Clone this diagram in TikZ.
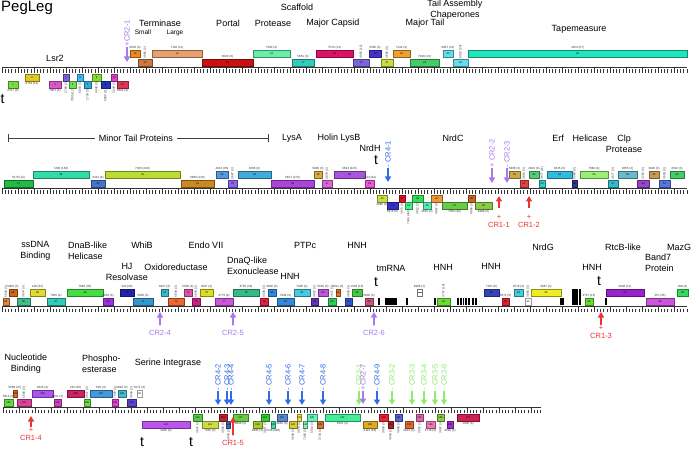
\documentclass[tikz,border=0pt]{standalone}
\usepackage{fontspec}
\setmainfont{Liberation Sans}
\usetikzlibrary{arrows.meta}

\definecolor{crred}{HTML}{EE3333}
\definecolor{crpurple}{HTML}{A779EE}
\definecolor{crgreen}{HTML}{8FEA6E}
\definecolor{crblue}{HTML}{2F6BEA}

% genes of one row: #1 = y of the ruler, #2 = x1/x2/offset/colour/number/label/h or v
\newcommand{\genes}[2]{%
  \foreach \xa/\xb/\dy/\hc/\gn/\lab/\ori in {#2} {
    \definecolor{gc}{HTML}{\hc}
    \pgfmathsetmacro\gw{\xb-\xa}
    \node[gene, fill=gc, draw=gc!60!black, minimum width=\gw pt] (g\gn) at ({(\xa+\xb)/2},{#1+(\dy)+3.5}) {\gn};
    \ifdim\dy pt<0pt
      \if\ori h\node[glab, anchor=south] (l\gn) at (g\gn.north) {\lab};
      \else\node[glab, rotate=90, anchor=west] (l\gn) at (g\gn.north) {\lab};\fi
    \else
      \if\ori h\node[glab, anchor=north] (l\gn) at (g\gn.south) {\lab};
      \else\node[glab, rotate=90, anchor=east] (l\gn) at (g\gn.south) {\lab};\fi
    \fi
  }}

% ruler: #1 = y, #2 = x start, #3 = number of small steps
\newcommand{\ruler}[3]{%
  \draw[rline] (#2,#1) -- ({#2+3.2*#3},#1);
  \foreach \tk in {0,...,#3} {
    \pgfmathsetmacro\tkx{#2+3.2*\tk}
    \pgfmathtruncatemacro\tkm{mod(\tk,5)}
    \ifnum\tkm=0 \draw[rtick] (\tkx,#1) -- (\tkx,#1+6);
    \else \draw[rtick] (\tkx,#1+2.5) -- (\tkx,#1+6);\fi
  }}

\begin{document}
\begin{tikzpicture}[x=1pt, y=-1pt,
  gene/.style={rectangle, minimum height=7pt, inner sep=0pt, line width=0.5pt, font=\fontsize{2.6}{3}\selectfont},
  glab/.style={inner sep=0.4pt, font=\fontsize{3}{3.5}\selectfont, text=black!80},
  func/.style={font=\fontsize{9}{11}\selectfont, inner sep=1pt},
  subfunc/.style={font=\fontsize{6.5}{7}\selectfont, inner sep=1pt},
  tsym/.style={font=\fontsize{14}{14}\selectfont, inner sep=0pt},
  crtext/.style={font=\fontsize{7.5}{8}\selectfont, inner sep=0.5pt},
  crarrow/.style={line width=1.5pt, -{Triangle[length=5.5pt,width=6pt]}},
  rline/.style={line width=0.6pt, black!80},
  rtick/.style={line width=0.35pt, black!80},
  bracket/.style={line width=0.5pt, black!75}
]
\fill[white] (0,0) rectangle (691,449);
\useasboundingbox (0,0) rectangle (691,449);

% rulers
\ruler{67}{2}{214}
\ruler{188}{2}{214}
\ruler{306}{2}{214}
\ruler{407}{3}{168}

% row 1
\genes{67}{8/18/14/77DD44/1/2757 (3)/h,
  25/39/7/DDCC22/2/6761 (11)/h,
  49/61/14/DD55CC/3/7861 (3)/h,
  63/69/7/7766DD/4/2769 (3)/v,
  69/76/14/77DD55/5/7085 (12)/v,
  77/83/7/44BBEE/6/6093 (3)/v,
  84/91/14/33AADD/7/2739 (3)/v,
  92/101/7/88DD33/8/4948 (3)/v,
  101/110/14/2233BB/9/5800 (11)/v,
  111/117/7/DD44CC/10/5938 (3)/v,
  117/128/14/DD3355/11/3602 (3)/h,
  130/140/-17/EE8822/12/9603 (3)/h,
  138/152/-8/CC7744/13/4985 (2)/v,
  152/202/-17/E8A070/14/7182 (11)/h,
  202/253/-8/CC1111/15/8024 (3)/h,
  253/290/-17/66EEAA/16/7582 (4)/h,
  292/314/-8/33CCBB/17/5661 (3)/h,
  316/353/-17/DD1166/18/7515 (13)/h,
  353/369/-8/7766DD/19/4905 (12)/v,
  369/381/-17/4433CC/20/3585 (3)/h,
  381/393/-8/CCDD44/21/3660 (3)/v,
  393/410/-17/EEA030/22/7222 (4)/h,
  410/439/-8/44CC66/23/7018 (13)/h,
  443/453/-17/66DDEE/24/6847 (21)/h,
  453/468/-8/66DDEE/25/6910 (24)/v,
  468/687/-17/22E6BB/26/4154 (57)/h}

\node[anchor=base west, font=\fontsize{15}{15}\selectfont, inner sep=0pt] (title) at (1,12) {PegLeg};
\node[func] (lsr2) at (55,58) {Lsr2};
\node[func] (termin) at (160,23) {Terminase};
\node[subfunc] (tsmall) at (143,32.5) {Small};
\node[subfunc] (tlarge) at (175,32.5) {Large};
\node[func] (portal) at (228,23) {Portal};
\node[func] (scaf) at (297,7) {Scaffold};
\node[func] (prot1) at (273,23) {Protease};
\node[func] (mcp) at (333,23) {Major Capsid};
\node[func] (mtail) at (425,23) {Major Tail};
\node[func, align=center] (chap) at (455,9.5) {Tail Assembly\\Chaperones};
\node[func] (tape) at (579,29) {Tapemeasure};
\node[tsym] (t1) at (2.5,99) {t};

% row 2
\genes{188}{4/33/-8/22BB44/27/5178 (14)/h,
  33/89/-17/33DDAA/28/7280 (163)/h,
  91/105/-8/4477CC/29/4412 (4)/h,
  105/180/-17/BBDD33/30/7363 (249)/h,
  181/214/-8/CC8822/31/6880 (128)/h,
  216/228/-17/5599DD/32/4312 (66)/h,
  228/237/-8/8866EE/33/3687 (3)/v,
  238/271/-17/44AADD/34/3606 (3)/h,
  271/314/-8/AA44DD/35/6821 (279)/h,
  314/322/-17/DDAA44/36/5806 (3)/h,
  322/332/-8/DD66DD/37/4878 (3)/v,
  334/365/-17/AA55DD/38/3634 (245)/h,
  365/374/-8/EE55DD/39/7534 (94)/h,
  377/387/7/CCDD44/40/4995 (3)/h,
  387/398/14/3333CC/41/5978 (6)/h,
  399/405/7/DD1122/42/3973 (3)/v,
  405/412/14/44EE88/43/7345 (450)/v,
  412/423/7/33DD55/44/3812 (3)/v,
  423/431/14/55EEAA/45/3815 (3)/h,
  431/442/7/EE9933/46/4867 (3)/v,
  442/467/14/66CC44/47/7565 (36)/h,
  468/475/7/CC6622/48/4866 (3)/v,
  475/492/14/88CC44/49/4988 (3)/h,
  509/520/-17/CCAA44/50/5808 (3)/h,
  520/528/-8/DD4444/51/3810 (3)/v,
  529/539/-17/55CC77/52/2813 (3)/h,
  539/545/-8/33CCCC/53/3677 (11)/v,
  547/572/-17/33BBDD/54/3815 (3)/h,
  572/577/-8/333399/55/5068 (3)/v,
  580/608/-17/99EE77/56/7884 (4)/h,
  608/618/-8/33BBCC/57/3677 (3)/v,
  618/637/-17/66BBCC/58/3855 (3)/h,
  637/649/-8/9944CC/59/3218 (3)/v,
  649/659/-17/CC9955/60/3626 (3)/h,
  659/670/-8/5577DD/61/3628 (3)/v,
  670/684/-17/44CC66/62/3622 (3)/h}

\node[func, inner sep=4pt] (mtp) at (136,138) {Minor Tail Proteins};
\coordinate (mtpl) at (8,138);
\coordinate (mtpr) at (268,138);
\draw[bracket] (mtpl) -- (mtp.west);
\draw[bracket] (mtp.east) -- (mtpr);
\draw[bracket] (8,134) -- (8,142);
\draw[bracket] (268,134) -- (268,142);
\node[func] (lysa) at (292,138) {LysA};
\node[func] (holin) at (339,138) {Holin LysB};
\node[func] (nrdh) at (370,148) {NrdH};
\node[tsym] (t2) at (376,160) {t};
\node[func] (nrdc) at (453,138) {NrdC};
\node[func] (erf) at (558,138) {Erf};
\node[func] (heli1) at (590,138) {Helicase};
\node[func, align=center] (clp) at (624,143.5) {Clp\\Protease};

% row 3
\genes{306}{3/9/-8/DD8844/63/5628 (3)/v,
  9/17/-17/CC6622/64/5959 (3)/h,
  17/30/-8/44BB88/65/3674 (3)/v,
  30/45/-17/DDDD33/66/149 (33)/h,
  47/65/-8/33CCBB/67/7585 (4)/h,
  67/103/-17/44DD44/68/7096 (33)/h,
  103/113/-8/9933DD/69/3833 (3)/h,
  120/134/-17/2222AA/70/343 (38)/h,
  133/153/-8/3399CC/71/5836 (3)/h,
  161/168/-17/33BBCC/72/3627 (3)/h,
  168/184/-8/EE6633/73/5839 (3)/v,
  184/192/-17/DD55AA/74/5006 (3)/h,
  192/200/-8/CC2288/75/5839 (3)/v,
  200/213/-17/DDDD22/76/3007 (3)/h,
  215/233/-8/CC55DD/77/3773 (9)/h,
  233/259/-17/33BB88/78/3705 (33)/h,
  260/268/-8/DD2244/79/4338 (3)/v,
  268/276/-17/3388DD/80/3830 (3)/h,
  277/294/-8/3388DD/81/7094 (3)/h,
  294/310/-17/44CCDD/82/7596 (4)/h,
  311/318/-8/6633BB/83/3832 (3)/v,
  318/328/-17/BB55DD/84/5010 (3)/h,
  328/336/-8/33CC55/85/3637 (3)/v,
  336/340/-17/DD7722/86/5011 (3)/h,
  345/352/-8/3355CC/87/3628 (3)/v,
  352/362/-17/44CC44/88/1536 (15)/h,
  365/373/-8/CC5577/89/3836 (3)/h,
  437/450/-8/66DD33/90/3757 (19)/v,
  484/499/-17/3344BB/91/7387 (6)/h,
  502/509/-8/DD2233/92/5872 (3)/h,
  514/523/-17/44CCDD/93/3576 (3)/h,
  525/531/-8/FFFFFF/94/3856 (3)/v,
  531/561/-17/EEEE22/95/3867 (3)/h,
  585/593/-8/66DD33/96/3757 (15)/h,
  606/644/-17/9922CC/97/3838 (11)/h,
  646/674/-8/CC55DD/98/357 (25)/h,
  677/688/-17/33DD55/99/398 (3)/h}

% tRNA marks
\foreach \bx in {379,407,435,458,461,463.5,466,469,473,476,561,563,606}
  \fill[black] (\bx-0.7,298) rectangle (\bx+0.7,305);
\foreach \bx in {573,575,577,580}
  \fill[black] (\bx-0.7,289) rectangle (\bx+0.7,305);
\fill[black] (385,298) rectangle (397,305);
\node[gene, fill=white, draw=black!55, minimum width=5pt] (trna) at (419.5,292.5) {};
\draw[black!55, line width=0.4pt] (trna.west) -- (trna.east);
\node[glab, anchor=south] (ltrna) at (trna.north) {8966 (1)};

\node[func, align=center] (ssdna) at (35.5,250.5) {ssDNA\\Binding};
\node[func, align=left, anchor=west] (dnab) at (67,250.5) {DnaB-like\\Helicase};
\node[func] (whib) at (142,245) {WhiB};
\node[func, align=center] (hj) at (127,272) {HJ\\Resolvase};
\node[func] (oxid) at (176,267) {Oxidoreductase};
\node[func] (endo) at (206,245) {Endo VII};
\node[func, align=left, anchor=west] (dnaq) at (226,265.5) {DnaQ-like\\Exonuclease};
\node[func] (hnh1) at (290,276) {HNH};
\node[func] (ptpc) at (305,245) {PTPc};
\node[func] (hnh2) at (357,245) {HNH};
\node[func] (tmrna) at (391,268) {tmRNA};
\node[tsym] (t3) at (376,282) {t};
\node[func] (hnh3) at (443,267) {HNH};
\node[func] (hnh4) at (491,266) {HNH};
\node[func] (nrdg) at (543,247) {NrdG};
\node[func] (hnh5) at (592,267) {HNH};
\node[tsym] (t4) at (599,281) {t};
\node[func] (rtcb) at (623,247) {RtcB-like};
\node[func, align=left, anchor=west] (band7) at (644,263) {Band7\\Protein};
\node[func] (mazg) at (679,247) {MazG};

% row 4
\genes{407}{4/13/-8/66DD44/100/5013 (3)/h,
  13/17/-17/DD6622/101/5568 (27)/h,
  17/31/-8/DD4499/102/5058 (3)/v,
  32/53/-17/AA55EE/103/3845 (3)/h,
  54/61/-8/CC44BB/104/3841 (3)/h,
  67/84/-17/CC2266/105/236 (36)/h,
  84/90/-8/66DD44/106/3847 (3)/v,
  90/112/-17/4499DD/107/605 (4)/h,
  112/118/-8/DD44CC/108/7560 (3)/v,
  118/126/-17/44BBCC/109/3844 (3)/h,
  127/136/-8/5544CC/110/3849 (3)/v,
  137/142/-17/FFFFFF/111/5071 (3)/h,
  142/190/14/BB55EE/112/3846 (3)/h,
  193/202/7/55CC44/113/3847 (3)/v,
  202/218/14/CCDD44/114/7025 (3)/h,
  219/227/7/BB2233/115/3618 (3)/v,
  227/230/14/4466AA/116/3845 (3)/v,
  233/248/7/66CC44/117/3866 (3)/h,
  253/262/14/AACC33/118/3895 (3)/h,
  261/269/7/33CC33/119/3857 (3)/v,
  271/275/14/44DDAA/120/7549 (488)/h,
  277/287/7/5588CC/121/3881 (3)/h,
  289/297/14/DDCC33/122/3848 (3)/v,
  297/301/7/EEDD44/123/3874 (3)/v,
  303/307/14/88EEBB/124/7385 (3)/v,
  307/317/7/66EEBB/125/5614 (3)/v,
  317/323/14/CC7733/126/3734 (4)/v,
  325/360/7/44EE99/127/5651 (3)/h,
  363/377/14/DDAA22/128/2124 (66)/h,
  379/388/7/EE2233/129/3859 (3)/v,
  388/393/14/AA2222/130/4049 (3)/v,
  395/402/7/5566CC/131/4898 (3)/v,
  405/413/14/DD6633/132/3021 (3)/h,
  416/423/7/DD66AA/133/3902 (3)/v,
  426/435/14/EE77BB/134/5719 (3)/h,
  437/444/7/88CC44/135/3867 (3)/v,
  447/453/14/9933CC/136/3620 (3)/h,
  457/479/7/CC2255/137/1005 (3)/h}

\node[func, align=center] (nucl) at (26,363.5) {Nucleotide\\Binding};
\node[func, align=left, anchor=west] (phos) at (81,363.5) {Phospho-\\esterase};
\node[func] (serint) at (168,363) {Serine Integrase};
\node[tsym] (t5) at (142,442) {t};
\node[tsym] (t6) at (191,442) {t};

% CRISPR-like repeats above the ruler
\foreach \nm/\x/\yb/\yt/\cc/\tx in {cr21/127/47/62/crpurple/+CR2-1,
  cr41/388/168/182/crblue/- CR4-1,
  cr22/492/168/183/crpurple/+ CR2-2,
  cr23/507/168/183/crpurple/- CR2-3,
  cr42/218/391/405/crblue/- CR4-2,
  cr43/227/391/405/crblue/- CR4-3,
  cr44/231/391/405/crblue/- CR4-4,
  cr45/269/391/405/crblue/- CR4-5,
  cr46/288/391/405/crblue/- CR4-6,
  cr47/302/391/405/crblue/- CR4-7,
  cr48/323/391/405/crblue/- CR4-8,
  cr31/359/391/405/crgreen/- CR3-1,
  cr27/363/391/404/crpurple/+CR2-7,
  cr49/377/391/405/crblue/- CR4-9,
  cr32/392/391/405/crgreen/- CR3-2,
  cr33/412/391/405/crgreen/- CR3-3,
  cr34/424/391/405/crgreen/- CR3-4,
  cr35/435/391/405/crgreen/- CR3-5,
  cr36/444/391/405/crgreen/- CR3-6} {
  \node[crtext, text=\cc, rotate=90, anchor=west] (\nm) at (\x,\yb) {\tx};
  \coordinate (t\nm) at (\x,\yt);
  \draw[crarrow, draw=\cc] (\nm.west) -- (t\nm);
}

% CRISPR-like repeats below the ruler
\foreach \nm/\x/\yt/\yl/\sh/\cc/\sg/\tx in {cr11/499/196/214/6/crred/+/CR1-1,
  cr12/529/196/214/6/crred/+/CR1-2,
  cr24/160/312/325/0/crpurple/-/CR2-4,
  cr25/233/312/325/0/crpurple/-/CR2-5,
  cr26/374/312/325/0/crpurple/-/CR2-6,
  cr13/601/312/325/0/crred/+/CR1-3,
  cr14/31/416/427/0/crred/+/CR1-4,
  cr15/233/417/435/0/crred/-/CR1-5} {
  \node[crtext, text=\cc, anchor=north, align=center] (\nm) at (\x,\yl) {\sg\\\tx};
  \coordinate (t\nm) at (\x,\yt);
  \draw[crarrow, draw=\cc, shorten <=\sh pt] (\nm.north) -- (t\nm);
}
\end{tikzpicture}
\end{document}
